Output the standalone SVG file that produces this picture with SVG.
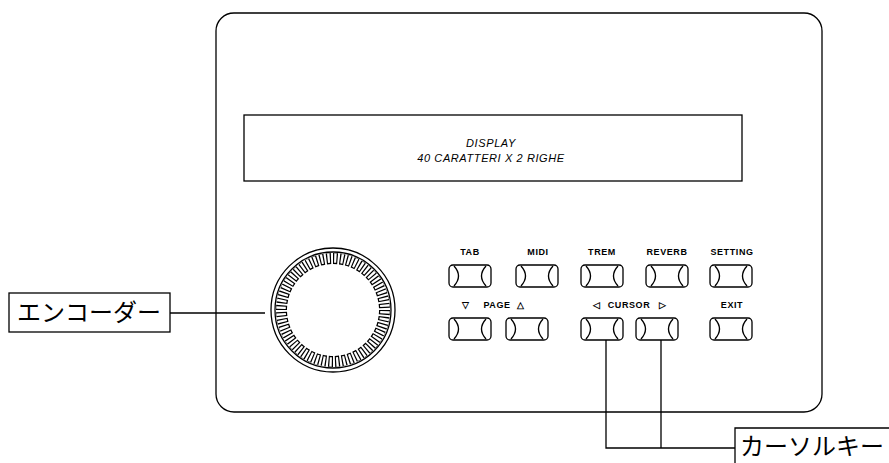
<svg xmlns="http://www.w3.org/2000/svg" xmlns:xlink="http://www.w3.org/1999/xlink" width="889" height="463" viewBox="0 0 889 463">
<style>
.ln{fill:none;stroke:#000;stroke-width:1.3}
.lbl{font-family:"Liberation Sans",Arial,sans-serif;font-size:9px;font-weight:bold;text-anchor:middle;fill:#000;letter-spacing:0.6px}
.disp{font-family:"Liberation Sans",Arial,sans-serif;font-size:11px;font-style:italic;text-anchor:middle;fill:#000;letter-spacing:0.6px}
.jp{font-family:"Noto Sans CJK JP","Noto Sans",sans-serif;font-size:24px;fill:#000}
</style>
<defs>
<g id="btn">
<rect x="0" y="0" width="42" height="22" rx="4" class="ln"/>
<path d="M5,1 Q14,11 5,21 M37,1 Q28,11 37,21" class="ln"/>
</g>
</defs>
<rect width="889" height="463" fill="#fff"/>
<g id="panel">
<rect x="216" y="13" width="606" height="399" rx="18" class="ln"/>
</g>
<g id="display">
<rect x="244" y="115" width="498" height="66" class="ln"/>
<text x="491" y="147" class="disp">DISPLAY</text>
<text x="491" y="162" class="disp">40 CARATTERI X 2 RIGHE</text>
</g>
<g id="encoder">
<circle cx="333" cy="310" r="62" class="ln"/>
<circle cx="333" cy="310" r="58" class="ln" stroke-width="1.1"/>
<circle cx="333" cy="310" r="51.5" fill="none" stroke="#000" stroke-width="11" pathLength="48" stroke-dasharray="0.7 0.3"/>
<circle cx="333" cy="310" r="52" fill="none" stroke="#fff" stroke-width="9.5" pathLength="48" stroke-dasharray="0.34 0.66" stroke-dashoffset="-0.18"/>
</g>
<g id="btn-tab"><use xlink:href="#btn" x="449" y="265"/><text x="470" y="255" class="lbl">TAB</text></g>
<g id="btn-midi"><use xlink:href="#btn" x="516" y="265"/><text x="538" y="255" class="lbl">MIDI</text></g>
<g id="btn-trem"><use xlink:href="#btn" x="581" y="265"/><text x="602" y="255" class="lbl">TREM</text></g>
<g id="btn-reverb"><use xlink:href="#btn" x="646" y="265"/><text x="667" y="255" class="lbl">REVERB</text></g>
<g id="btn-setting"><use xlink:href="#btn" x="710" y="265"/><text x="732" y="255" class="lbl">SETTING</text></g>
<g id="btn-page-down"><use xlink:href="#btn" x="449" y="318"/><text x="466" y="308" class="lbl">▽</text></g>
<g id="btn-page-up"><use xlink:href="#btn" x="506" y="318"/><text x="521" y="308" class="lbl">△</text></g>
<text x="497" y="308" class="lbl">PAGE</text>
<g id="btn-cursor-left"><use xlink:href="#btn" x="581" y="318"/><text x="597" y="308" class="lbl">◁</text></g>
<g id="btn-cursor-right"><use xlink:href="#btn" x="636" y="318"/><text x="663" y="308" class="lbl">▷</text></g>
<text x="629" y="308" class="lbl">CURSOR</text>
<g id="btn-exit"><use xlink:href="#btn" x="710" y="318"/><text x="732" y="308" class="lbl">EXIT</text></g>
<g id="label-encoder">
<rect x="9" y="293" width="161" height="39" class="ln"/>
<text x="17" y="321" class="jp">エンコーダー</text>
</g>
<g id="label-cursor">
<path d="M735,463 V428 H889" class="ln"/>
<text x="740" y="455" class="jp">カーソルキー</text>
</g>
<g id="connectors">
<path d="M170,313 H265" class="ln"/>
<path d="M606,340 V448 H735 M661,340 V448" class="ln"/>
</g>
</svg>
